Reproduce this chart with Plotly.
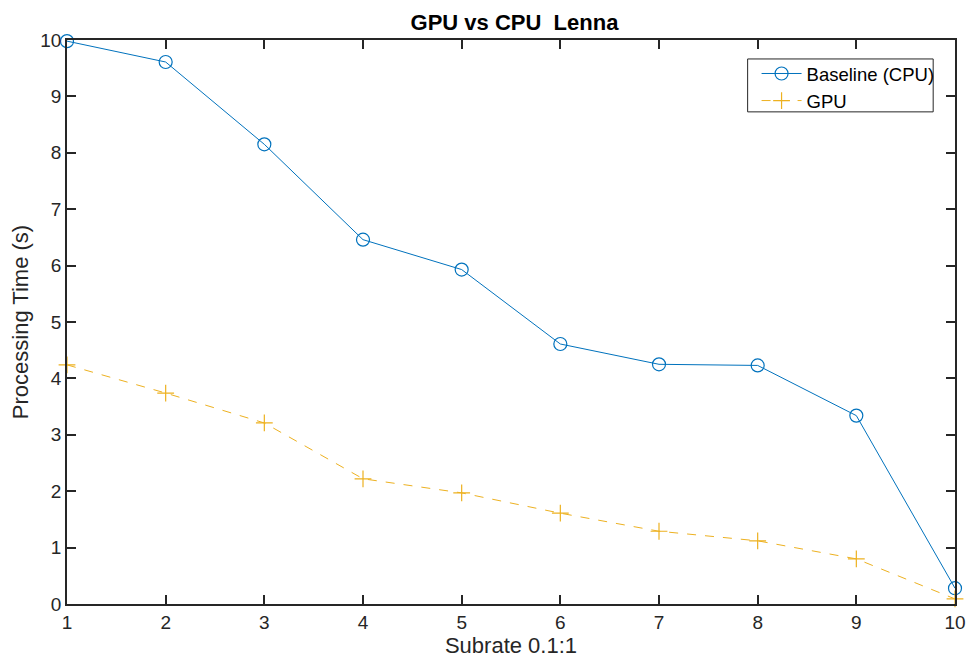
import plotly.graph_objects as go

subrate = [1, 2, 3, 4, 5, 6, 7, 8, 9, 10]
cpu_time = [9.98, 9.61, 8.15, 6.46, 5.93, 4.61, 4.25, 4.23, 3.34, 0.28]
gpu_time = [4.24, 3.74, 3.21, 2.22, 1.97, 1.61, 1.29, 1.12, 0.80, 0.09]

font = "Liberation Sans, Arial, sans-serif"

W, H = 978, 666
L, R, T, B = 67, 16, 40, 61
pw, ph = W - L - R, H - T - B


def px_x(p):
    return (p - L) / pw


def px_y(p):
    return (H - B - p) / ph


fig = go.Figure()
fig.add_trace(go.Scatter(
    x=subrate, y=cpu_time, mode="lines+markers", name="Baseline (CPU)",
    line=dict(color="#0072BD", width=1),
    marker=dict(symbol="circle-open", size=13, color="#0072BD", line=dict(width=1.2)),
    cliponaxis=False,
))
fig.add_trace(go.Scatter(
    x=subrate, y=gpu_time, mode="lines+markers", name="GPU",
    line=dict(color="#EDB120", width=1, dash="dash"),
    marker=dict(symbol="cross-thin-open", size=12, color="#EDB120", line=dict(width=1.2, color="#EDB120")),
    cliponaxis=False,
))

axis_common = dict(
    showline=True, linecolor="#262626", linewidth=1.5, mirror="ticks",
    ticks="inside", ticklen=9, tickwidth=1.5, tickcolor="#262626",
    showgrid=False, zeroline=False,
    tickfont=dict(family=font, size=19, color="#262626"),
)

fig.update_layout(
    width=W, height=H,
    margin=dict(l=L, r=R, t=T, b=B),
    paper_bgcolor="white", plot_bgcolor="white",
    title=dict(text="<b>GPU vs CPU  Lenna</b>", x=(67 + 962) / 2 / W, xanchor="center",
               y=1 - 22 / H, yanchor="middle",
               font=dict(family=font, size=22, color="black")),
    xaxis=dict(range=[1, 10], tickvals=subrate,
               title=dict(text="Subrate 0.1:1", standoff=6,
                          font=dict(family=font, size=22, color="#262626")),
               **axis_common),
    yaxis=dict(range=[0, 10], tickvals=list(range(0, 11)),
               title=dict(text="Processing Time (s)", standoff=6,
                          font=dict(family=font, size=22, color="#262626")),
               **axis_common),
    legend=dict(x=px_x(762), y=px_y(55), xanchor="left", yanchor="top",
                bgcolor="rgba(0,0,0,0)", borderwidth=0,
                font=dict(family=font, size=18.5, color="black"),
                tracegroupgap=0, itemwidth=40),
    showlegend=True,
    shapes=[dict(type="rect", xref="paper", yref="paper",
                 x0=px_x(753), x1=px_x(940), y0=px_y(112), y1=px_y(59),
                 line=dict(color="#262626", width=1), fillcolor="white", layer="below")],
)

fig.write_html("out.html")
